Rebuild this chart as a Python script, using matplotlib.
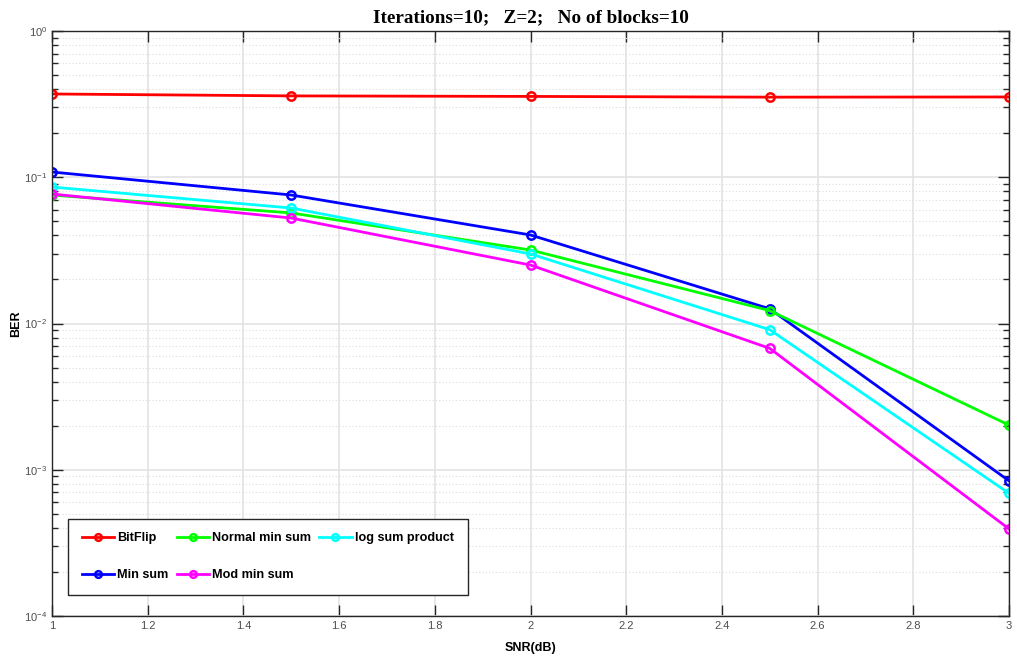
import matplotlib
matplotlib.use("Agg")
import matplotlib.pyplot as plt
from matplotlib.ticker import LogLocator, NullFormatter, FixedLocator

plt.rcParams["font.family"] = ["Liberation Sans", "DejaVu Sans"]

snr = [1.0, 1.5, 2.0, 2.5, 3.0]
bitflip = [0.371, 0.36, 0.357, 0.353, 0.354]
min_sum = [0.1086, 0.0756, 0.0403, 0.0126, 8.4e-4]
normal_min_sum = [0.0756, 0.057, 0.0318, 0.01225, 2.02e-3]
log_sum_product = [0.0857, 0.0616, 0.0299, 0.00907, 6.9e-4]
mod_min_sum = [0.0768, 0.0526, 0.0251, 0.00676, 3.94e-4]

xticks = [1, 1.2, 1.4, 1.6, 1.8, 2, 2.2, 2.4, 2.6, 2.8, 3]
xticklabels = ["1", "1.2", "1.4", "1.6", "1.8", "2", "2.2", "2.4", "2.6", "2.8", "3"]

fig = plt.figure(figsize=(10.17, 6.61), dpi=100)
ax = fig.add_axes([52/1017, 1-616/661, (1009-52)/1017, (616-31)/661])

lw = 2.0
ms = 6
series = [
    ("BitFlip", bitflip, "#ff0000"),
    ("Min sum", min_sum, "#0000ff"),
    ("Normal min sum", normal_min_sum, "#00ff00"),
    ("log sum product", log_sum_product, "#00ffff"),
    ("Mod min sum", mod_min_sum, "#ff00ff"),
]
handles = {}
for name, vals, c in series:
    h, = ax.plot(snr, vals, "-o", color=c, lw=lw, ms=ms, mfc="none", mew=1.8, label=name)
    handles[name] = h

ax.set_yscale("log")
ax.set_xlim(1, 3)
ax.set_ylim(1e-4, 1)
ax.xaxis.set_major_locator(FixedLocator(xticks))
ax.set_xticklabels(xticklabels)
ax.yaxis.set_major_locator(LogLocator(base=10, numticks=10))
ax.yaxis.set_minor_locator(LogLocator(base=10, subs=range(2, 10), numticks=20))
ax.yaxis.set_minor_formatter(NullFormatter())

ax.grid(True, which="major", axis="both", color="#e3e3e3", lw=1.2, ls="-")
ax.grid(True, which="minor", axis="y", color="#dedede", lw=0.8, ls=(0, (1, 2)))
ax.set_axisbelow(True)

ax.tick_params(which="both", direction="in", top=True, right=True, colors="#262626",
               labelcolor="#4d4d4d", labelsize=8, width=1.0)
ax.tick_params(which="major", length=8)
ax.tick_params(which="minor", length=4)
for s in ax.spines.values():
    s.set_color("#262626")
    s.set_linewidth(1.0)

ax.set_xlabel("SNR(dB)", fontsize=9, fontweight="bold", labelpad=8)
ax.set_ylabel("BER", fontsize=9, fontweight="bold")
ax.yaxis.set_label_coords(-0.031, 0.5)
ax.set_title("Iterations=10;   Z=2;   No of blocks=10", fontsize=13.8, fontweight="bold",
             family="Liberation Serif", pad=6)

order = ["BitFlip", "Min sum", "Normal min sum", "Mod min sum", "log sum product"]
leg = ax.legend([handles[n] for n in order], order, ncol=3, loc="lower left",
                bbox_to_anchor=(16/957, 21/585), borderaxespad=0, fancybox=False, framealpha=1,
                edgecolor="#262626", prop={"weight": "bold", "size": 9.1},
                borderpad=1.1, labelspacing=1.95, handlelength=2.55, handletextpad=0.25,
                columnspacing=0.65, markerscale=0.8)
leg.get_frame().set_linewidth(1.0)

fig.savefig("out.png", dpi=100)
